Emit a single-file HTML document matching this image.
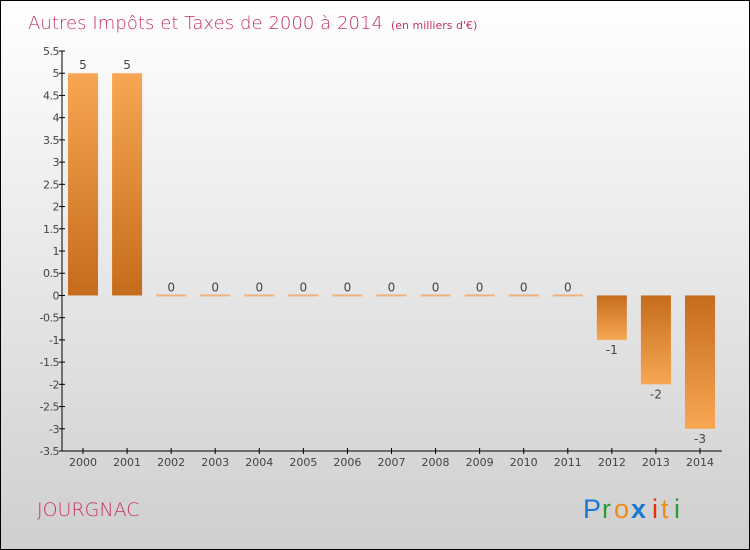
<!DOCTYPE html>
<html><head><meta charset="utf-8"><style>
body{margin:0}
#c{width:750px;height:550px;position:relative;overflow:hidden;box-sizing:border-box;border:1px solid #000;background:linear-gradient(#ffffff,#cfcfcf);font-family:"DejaVu Sans","Liberation Sans",sans-serif}
</style></head><body>
<div id="c">
<svg width="750" height="550" style="position:absolute;left:0;top:0" id="s">
<defs>
<linearGradient id="gp" x1="0" y1="0" x2="0" y2="1"><stop offset="0" stop-color="#f7a753"/><stop offset="1" stop-color="#c56c1c"/></linearGradient>
<linearGradient id="gn" x1="0" y1="0" x2="0" y2="1"><stop offset="0" stop-color="#c56c1c"/><stop offset="1" stop-color="#f7a753"/></linearGradient>
</defs>
<text x="27" y="28" font-size="18" fill="#c8325e" font-family="'DejaVu Sans',sans-serif" font-weight="200" textLength="355">Autres Impôts et Taxes de 2000 à 2014</text>
<text x="390" y="28" font-size="11" fill="#c8325e">(en milliers d'€)</text>
<text x="36" y="515" font-size="19" fill="#c8325e" font-weight="200">JOURGNAC</text>
<g font-size="27" font-family="'Liberation Sans',sans-serif">
<text x="582" y="517" fill="#1a78d0">P</text><text x="601" y="517" fill="#2a9a3a">r</text><text x="613" y="517" fill="#f08a10">o</text><text x="630" y="517" fill="#1a78d0" font-weight="bold">x</text><text x="651" y="517" fill="#e03010">i</text><text x="660" y="517" fill="#f08a10">t</text><text x="673" y="517" fill="#2a9a3a">i</text>
</g>
<g id="plot"></g>
</svg>
</div>
<script>
const years=["2000","2001","2002","2003","2004","2005","2006","2007","2008","2009","2010","2011","2012","2013","2014"];
const values=[5,5,0,0,0,0,0,0,0,0,0,0,-1,-2,-3];
const yTicks=[5.5,5,4.5,4,3.5,3,2.5,2,1.5,1,0.5,0,-0.5,-1,-1.5,-2,-2.5,-3,-3.5];
const NS="http://www.w3.org/2000/svg";
const g=document.getElementById('plot');
const yMin=-3.5,yMax=5.5,pTop=50,pBot=450,x0=61,x1=721;
function y(v){return pTop+(yMax-v)/(yMax-yMin)*(pBot-pTop);}
function xc(i){return 82+i*44.07;}
function el(t,a){const e=document.createElementNS(NS,t);for(const k in a)e.setAttribute(k,a[k]);g.appendChild(e);return e;}
let ax=el('line',{x1:x0,y1:pTop,x2:x0,y2:pBot,stroke:'#000'});


let bx=el('line',{x1:x0,y1:pBot,x2:x1,y2:pBot,stroke:'#000'});


yTicks.forEach(v=>{
 const t=el('line',{x1:x0-3,x2:x0+3,y1:y(v),y2:y(v),stroke:'#000'});
 
 
 const l=el('text',{x:x0-3,y:y(v)+4,'text-anchor':'end','font-size':11,fill:'#444','letter-spacing':'-0.5'});
 l.textContent=String(v);
 
 
});
years.forEach((yr,i)=>{
 const cx=xc(i),v=values[i];
 const t=el('line',{x1:cx,x2:cx,y1:pBot-3,y2:pBot+3,stroke:'#000'});
 
 
 const l=el('text',{x:cx,y:pBot+15,'text-anchor':'middle','font-size':11,fill:'#444'});
 l.textContent=yr;
 
 
 let b;
 if(v===0){b=el('rect',{x:cx-15,y:y(0)-1,width:30,height:2,fill:'#f2b07a'});}
 else if(v>0){b=el('rect',{x:cx-15,y:y(v),width:30,height:y(0)-y(v),fill:'url(#gp)'});}
 else{b=el('rect',{x:cx-15,y:y(0),width:30,height:y(v)-y(0),fill:'url(#gn)'});}
 
 
 const vl=el('text',{x:cx,'text-anchor':'middle','font-size':12,fill:'#444',y:v>=0?y(v)-4:y(v)+14});
 vl.textContent=String(v);
 
 
});
</script>
</body></html>
